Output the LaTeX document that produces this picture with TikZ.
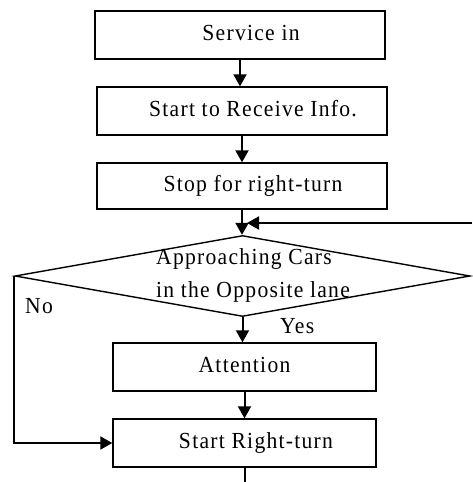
\documentclass[tikz,border=0pt]{standalone}
\usepackage{fontspec}
\setmainfont[LetterSpace=5.5,FakeStretch=0.94]{Liberation Serif}
\usetikzlibrary{arrows.meta,shapes.geometric}

\begin{document}
\begin{tikzpicture}[
			x=1pt, y=-1pt,
			font=\fontsize{23}{33}\selectfont,
			stepbox/.style={rectangle,draw,line width=1.4pt,inner sep=0pt,
				text height=16pt,text depth=5pt},
			widebox/.style={stepbox,minimum width=290pt,minimum height=48pt},
			narrowbox/.style={stepbox,minimum width=263pt,minimum height=48pt},
			tag/.style={anchor=base west,inner sep=0pt},
			flow/.style={-{Triangle[length=12pt,width=13pt]},line width=2pt}
		]
		\useasboundingbox (0,0) rectangle (472,482);

		\node[widebox] (in) at (240,35) {\hspace*{22pt}Service in};
		\node[widebox] (recv) at (242,111) {\hspace*{22pt}Start to Receive Info.};
		\node[widebox, minimum height=46pt] (stop) at (242,186) {\hspace*{22pt}Stop for right-turn};
		\node[diamond,draw,line width=1.4pt,inner sep=0pt,
			minimum width=455pt,minimum height=81pt] (cars) at (242.5,276) {};
		\node[anchor=base,inner sep=0pt] (carsa) at (244,264) {Approaching Cars};
		\node[anchor=base,inner sep=0pt] (carsb) at (253,297) {in the Opposite lane};
		\node[narrowbox] (attn) at (244.5,367) {Attention};
		\node[narrowbox] (turn) at (244.5,443) {\hspace*{23pt}Start Right-turn};

		\node[tag] (no) at (25,313) {No};
		\node[tag] (yes) at (280,333) {Yes};

		\coordinate (loopin) at (472,223);
		\coordinate (out) at (243,482);

		\draw[flow] (in.south) -- (in.south |- recv.north);
		\draw[flow] (recv.south) -- (recv.south |- stop.north);
		\draw[flow] (stop.south) -- (stop.south |- cars.north);
		\draw[flow, shorten >=5pt] (loopin) -- (stop.south |- loopin);
		\draw[flow] (cars.south) -- (cars.south |- attn.north);
		\draw[flow] (attn.south) -- (attn.south |- turn.north);
		\draw[flow] (cars.west) |- (turn.west);
		\draw[line width=2pt] (turn.south) -- (turn.south |- out);
	\end{tikzpicture}
\end{document}
